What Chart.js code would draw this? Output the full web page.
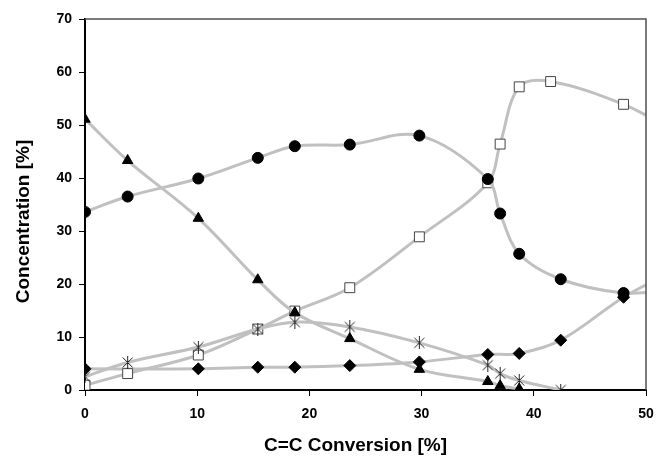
<!DOCTYPE html>
<html>
<head>
<meta charset="utf-8">
<script src="https://cdn.jsdelivr.net/npm/chart.js@4/dist/chart.umd.min.js"></script>
<style>
  body { margin: 0; background: #fff; }
  #wrap { width: 657px; height: 457px; position: relative; }
</style>
</head>
<body>
<div id="wrap"><canvas id="chart"></canvas></div>
<script>
// Data (x = C=C conversion %, y = concentration %)
// points beyond 50 only carry the curves to the right edge, they are clipped
var circleX = [0, 3.8, 10.1, 15.4, 18.7, 23.6, 29.8, 35.9, 37.0, 38.7, 42.4, 48.0, 52];
var circleY = [33.6, 36.5, 39.9, 43.8, 46.0, 46.3, 48.0, 39.8, 33.3, 25.7, 20.9, 18.3, 18.8];

var squareX = [0, 3.8, 10.1, 15.4, 18.7, 23.6, 29.8, 35.9, 37.0, 38.7, 41.5, 48.0, 52];
var squareY = [0.9, 3.1, 6.6, 11.5, 14.9, 19.3, 28.9, 39.1, 46.4, 57.2, 58.2, 53.9, 49.5];

var triangleX = [0, 3.8, 10.1, 15.4, 18.7, 23.6, 29.8, 35.9, 37.0, 38.7];
var triangleY = [51.1, 43.3, 32.4, 20.8, 14.6, 9.7, 3.9, 1.6, 0.8, 0.2];

var diamondX = [0, 10.1, 15.4, 18.7, 23.6, 29.8, 35.9, 38.7, 42.4, 48.0, 52];
var diamondY = [4.0, 4.0, 4.3, 4.3, 4.6, 5.3, 6.7, 6.9, 9.4, 17.5, 22];

var starX = [0, 3.8, 10.1, 15.4, 18.7, 23.6, 29.8, 35.9, 37.0, 38.7, 42.4];
var starY = [2.5, 5.2, 8.1, 11.5, 12.8, 11.9, 8.9, 4.7, 3.1, 1.8, 0];

var xTicks = [0, 10, 20, 30, 40, 50];
var yTicks = [0, 10, 20, 30, 40, 50, 60, 70];

var xTitle = "C=C Conversion [%]";
var yTitle = "Concentration [%]";

function toPoints(xs, ys) {
    var pts = [];
    for (var i = 0; i < xs.length; i++) {
        pts.push({ x: xs[i], y: ys[i] });
    }
    return pts;
}

// hide the helper points that sit outside the axis
function markerSize(r) {
    return function (ctx) {
        var p = ctx.raw;
        return (p && p.x > 50) ? 0 : r;
    };
}

// excel style asterisk: X with a vertical bar
var starImg = document.createElement('canvas');
starImg.width = 13;
starImg.height = 13;
var sctx = starImg.getContext('2d');
sctx.strokeStyle = '#222';
sctx.lineWidth = 1;
sctx.beginPath();
sctx.moveTo(1.5, 1.5); sctx.lineTo(11.5, 11.5);
sctx.moveTo(11.5, 1.5); sctx.lineTo(1.5, 11.5);
sctx.moveTo(6.5, 0); sctx.lineTo(6.5, 13);
sctx.stroke();

var lineGray = '#c0c0c0';
var fontFamily = "'Liberation Sans', Arial, sans-serif";

var ctx = document.getElementById('chart').getContext('2d');

var chart = new Chart(ctx, {
    type: 'scatter',
    data: {
        datasets: [{
            data: toPoints(circleX, circleY),
            showLine: true,
            borderColor: lineGray,
            borderWidth: 3,
            tension: 0.35,
            pointStyle: 'circle',
            pointRadius: markerSize(5.5),
            pointBackgroundColor: '#000',
            pointBorderColor: '#000',
            pointBorderWidth: 1,
            order: 1
        }, {
            data: toPoints(triangleX, triangleY),
            showLine: true,
            borderColor: lineGray,
            borderWidth: 3,
            tension: 0.35,
            pointStyle: 'triangle',
            pointRadius: markerSize(6),
            pointBackgroundColor: '#000',
            pointBorderColor: '#000',
            pointBorderWidth: 1,
            order: 2
        }, {
            data: toPoints(starX, starY),
            showLine: true,
            borderColor: lineGray,
            borderWidth: 3,
            tension: 0.35,
            pointStyle: starImg,
            pointRadius: markerSize(6),
            order: 3
        }, {
            data: toPoints(squareX, squareY),
            showLine: true,
            borderColor: lineGray,
            borderWidth: 3,
            tension: 0.35,
            pointStyle: 'rect',
            pointRadius: markerSize(7),
            pointBackgroundColor: '#fff',
            pointBorderColor: '#444',
            pointBorderWidth: 1,
            order: 4
        }, {
            data: toPoints(diamondX, diamondY),
            showLine: true,
            borderColor: lineGray,
            borderWidth: 3,
            tension: 0.35,
            pointStyle: 'rectRot',
            pointRadius: markerSize(6),
            pointBackgroundColor: '#000',
            pointBorderColor: '#000',
            pointBorderWidth: 1,
            order: 5
        }]
    },
    options: {
        responsive: true,
        maintainAspectRatio: false,
        animation: false,
        layout: { padding: { left: 0, right: 11, top: 19, bottom: 0 } },
        plugins: {
            legend: { display: false },
            tooltip: { enabled: false }
        },
        scales: {
            x: {
                type: 'linear',
                min: 0,
                max: 50,
                afterBuildTicks: function (axis) {
                    axis.ticks = xTicks.map(function (v) { return { value: v }; });
                },
                afterFit: function (axis) {
                    axis.height = 67;
                    // the layout padding already leaves room for the end labels
                    axis.paddingLeft = 0;
                    axis.paddingRight = 0;
                },
                grid: { drawOnChartArea: false, drawTicks: true, tickLength: 6, color: '#000', lineWidth: 1 },
                border: { color: '#000', width: 2 },
                ticks: {
                    color: '#000',
                    padding: 10,
                    maxRotation: 0,
                    font: { family: fontFamily, size: 14, weight: 'bold' }
                }
            },
            y: {
                min: 0,
                max: 70,
                afterBuildTicks: function (axis) {
                    axis.ticks = yTicks.map(function (v) { return { value: v }; });
                },
                afterFit: function (axis) { axis.width = 85; },
                grid: { drawOnChartArea: false, drawTicks: true, tickLength: 6, color: '#000', lineWidth: 1 },
                border: { color: '#000', width: 2 },
                ticks: {
                    color: '#000',
                    padding: 7,
                    font: { family: fontFamily, size: 14, weight: 'bold' }
                }
            }
        }
    },
    plugins: [{
        id: 'frameAndTitles',
        afterDraw: function (chart) {
            var c = chart.ctx,
                area = chart.chartArea;

            // top and right frame
            c.save();
            c.strokeStyle = '#505050';
            c.lineWidth = 1.5;
            c.beginPath();
            c.moveTo(area.left, area.top);
            c.lineTo(area.right, area.top);
            c.lineTo(area.right, area.bottom);
            c.stroke();

            // axis titles
            c.fillStyle = '#000';
            c.font = "bold 19px " + fontFamily;
            c.textAlign = 'center';
            c.textBaseline = 'middle';
            c.fillText(xTitle, area.left + (area.right - area.left) / 2 - 10, 446);

            c.translate(24, (area.top + area.bottom) / 2 + 17);
            c.rotate(-Math.PI / 2);
            c.fillText(yTitle, 0, 0);
            c.restore();
        }
    }]
});
</script>
</body>
</html>
